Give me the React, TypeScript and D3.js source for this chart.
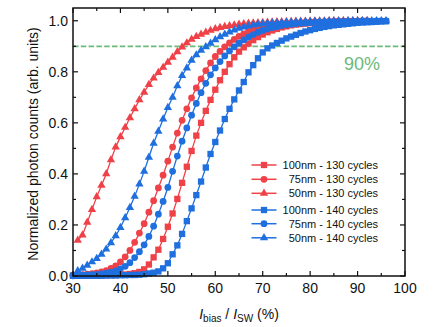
import React from "react";
import * as d3 from "d3";

const W = 436;
const H = 327;

// x grid start values (I_bias / I_SW in %, step 1)
const startSq130 = 30;
const startCi130 = 30;
const startTr130 = 31;
const startSq140 = 30;
const startCi140 = 30;
const startTr140 = 31;

const sq130 = [
  0.001, 0.001, 0.001, 0.002, 0.002, 0.002, 0.003, 0.003, 0.004, 0.004,
  0.005, 0.006, 0.008, 0.011, 0.016, 0.026, 0.045, 0.073, 0.103, 0.145,
  0.193, 0.245, 0.302, 0.365, 0.428, 0.49, 0.55, 0.6, 0.647, 0.69,
  0.73, 0.767, 0.8, 0.83, 0.857, 0.879, 0.896, 0.911, 0.924, 0.936,
  0.946, 0.955, 0.962, 0.968, 0.974, 0.978, 0.982, 0.985, 0.987, 0.989,
  0.991, 0.992, 0.993, 0.994, 0.995, 0.996, 0.996, 0.997, 0.997, 0.998,
  0.998, 0.999, 0.999,
];
const ci130 = [
  0.003, 0.004, 0.005, 0.007, 0.009, 0.012, 0.016, 0.021, 0.03, 0.04,
  0.055, 0.075, 0.1, 0.132, 0.168, 0.205, 0.25, 0.295, 0.345, 0.395,
  0.45, 0.505, 0.56, 0.61, 0.655, 0.698, 0.737, 0.772, 0.805, 0.835,
  0.86, 0.88, 0.898, 0.913, 0.927, 0.939, 0.949, 0.958, 0.965, 0.971,
  0.976, 0.98, 0.983, 0.986, 0.988, 0.99, 0.991, 0.992, 0.993, 0.994,
  0.995, 0.996, 0.996, 0.997, 0.997, 0.998, 0.998, 0.998, 0.999, 0.999,
  0.999, 1.0, 1.0,
];
const tr130 = [
  0.14, 0.16, 0.21, 0.26, 0.31, 0.355, 0.4, 0.455, 0.505,
  0.545, 0.582, 0.62, 0.655, 0.69, 0.72, 0.75, 0.775, 0.797, 0.817,
  0.837, 0.857, 0.878, 0.897, 0.913, 0.927, 0.938, 0.947, 0.955, 0.962,
  0.968, 0.973, 0.977, 0.98, 0.983, 0.986, 0.988, 0.99, 0.991, 0.992,
  0.993, 0.994, 0.995, 0.996, 0.996, 0.997, 0.997, 0.998, 0.998, 0.998,
  0.999, 0.999, 0.999, 0.999, 1.0, 1.0, 1.0, 1.0, 1.0, 1.0,
  1.0, 1.0, 1.0,
];
const sq140 = [
  0.001, 0.001, 0.001, 0.001, 0.001, 0.001, 0.001, 0.002, 0.002, 0.002,
  0.003, 0.003, 0.004, 0.004, 0.005, 0.007, 0.01, 0.013, 0.018, 0.03,
  0.05, 0.085, 0.12, 0.165, 0.215, 0.265, 0.317, 0.37, 0.425, 0.478,
  0.525, 0.57, 0.615, 0.655, 0.692, 0.727, 0.76, 0.798, 0.826, 0.853,
  0.876, 0.892, 0.903, 0.913, 0.922, 0.931, 0.938, 0.945, 0.952, 0.958,
  0.963, 0.968, 0.972, 0.976, 0.979, 0.982, 0.984, 0.986, 0.988, 0.99,
  0.992, 0.993, 0.994, 0.995, 0.996, 0.997, 0.998,
];
const ci140 = [
  0.001, 0.002, 0.003, 0.004, 0.005, 0.006, 0.008, 0.011, 0.015, 0.02,
  0.028, 0.038, 0.052, 0.072, 0.095, 0.122, 0.155, 0.195, 0.242, 0.292,
  0.347, 0.41, 0.47, 0.528, 0.58, 0.63, 0.676, 0.718, 0.755, 0.788,
  0.815, 0.84, 0.862, 0.882, 0.898, 0.912, 0.925, 0.936, 0.946, 0.955,
  0.962, 0.968, 0.973, 0.977, 0.981, 0.984, 0.986, 0.988, 0.99, 0.991,
  0.992, 0.993, 0.994, 0.995, 0.996, 0.996, 0.997, 0.997, 0.998, 0.998,
  0.998, 0.999, 0.999, 0.999, 1.0, 1.0, 1.0,
];
const tr140 = [
  0.02, 0.03, 0.042, 0.055, 0.068, 0.085, 0.105, 0.13, 0.157,
  0.19, 0.228, 0.268, 0.312, 0.36, 0.41, 0.465, 0.52, 0.567, 0.615,
  0.66, 0.7, 0.745, 0.785, 0.815, 0.845, 0.866, 0.884, 0.898, 0.912,
  0.925, 0.937, 0.947, 0.956, 0.963, 0.97, 0.975, 0.979, 0.983, 0.986,
  0.988, 0.99, 0.991, 0.992, 0.993, 0.994, 0.995, 0.996, 0.996, 0.997,
  0.997, 0.998, 0.998, 0.998, 0.999, 0.999, 0.999, 0.999, 1.0, 1.0,
  1.0, 1.0, 1.0, 1.0, 1.0, 1.0, 1.0,
];

const seriesNames = [
  "100nm - 130 cycles",
  "75nm - 130 cycles",
  "50nm - 130 cycles",
  "100nm - 140 cycles",
  "75nm - 140 cycles",
  "50nm - 140 cycles",
];
const xTicks = [30, 40, 50, 60, 70, 80, 90, 100];
const yTicks = [0, 0.2, 0.4, 0.6, 0.8, 1.0];
const thresholdValue = 0.9;
const thresholdLabel = "90%";

const RED = "#ef4148";
const BLUE = "#1f6fdf";
const GREEN = "#6cb97a";
const FONT = "'Liberation Sans', Arial, Helvetica, sans-serif";

type Series = {
  name: string;
  start: number;
  values: number[];
  color: string;
  shape: "square" | "circle" | "triangle";
};

const series: Series[] = [
  { name: seriesNames[0], start: startSq130, values: sq130, color: RED, shape: "square" },
  { name: seriesNames[1], start: startCi130, values: ci130, color: RED, shape: "circle" },
  { name: seriesNames[2], start: startTr130, values: tr130, color: RED, shape: "triangle" },
  { name: seriesNames[3], start: startSq140, values: sq140, color: BLUE, shape: "square" },
  { name: seriesNames[4], start: startCi140, values: ci140, color: BLUE, shape: "circle" },
  { name: seriesNames[5], start: startTr140, values: tr140, color: BLUE, shape: "triangle" },
];

const symbolFor = (shape: string) => {
  if (shape === "square") return d3.symbol().type(d3.symbolSquare).size(40)();
  if (shape === "circle") return d3.symbol().type(d3.symbolCircle).size(36)();
  return d3.symbol().type(d3.symbolTriangle).size(30)();
};

export default function App() {
  const left = 73;
  const right = 405;
  const top = 8;
  const bottom = 276;
  const x = d3.scaleLinear().domain([30, 100]).range([left, right]);
  const y = d3.scaleLinear().domain([0, 1.05]).range([bottom, top]);

  const xMinor = d3.range(35, 100, 10);
  const yMinor = [0.1, 0.3, 0.5, 0.7, 0.9];

  const line = d3
    .line<[number, number]>()
    .x((d) => x(d[0]))
    .y((d) => y(d[1]));

  const legendRows = [165, 179.3, 193.3, 210, 223.7, 237.8];

  return (
    <svg
      width={W}
      height={H}
      style={{ position: "absolute", left: 0, top: 0, background: "#fff" }}
      fontFamily={FONT}
    >
      <rect x={0} y={0} width={W} height={H} fill="#fff" />
      {/* threshold */}
      <line
        x1={x(30)}
        x2={x(100)}
        y1={y(thresholdValue)}
        y2={y(thresholdValue)}
        stroke={GREEN}
        strokeWidth={1.8}
        strokeDasharray="5.5,2.3"
      />
      <text x={344} y={70} fontSize={18} fill={GREEN}>
        {thresholdLabel}
      </text>

      {/* series */}
      {series.map((s, si) => {
        const pts: [number, number][] = s.values.map((v, i) => [s.start + i, v]);
        const sym = symbolFor(s.shape);
        return (
          <g key={si}>
            <path d={line(pts) || ""} fill="none" stroke={s.color} strokeWidth={1.3} />
            {pts.map((p, i) => (
              <path
                key={i}
                d={sym || ""}
                transform={`translate(${x(p[0])},${y(p[1])})`}
                fill={s.color}
              />
            ))}
          </g>
        );
      })}

      {/* frame */}
      <rect
        x={left}
        y={top}
        width={right - left}
        height={bottom - top}
        fill="none"
        stroke="#111"
        strokeWidth={1.5}
      />

      {/* x ticks */}
      {xTicks.map((t) => (
        <g key={"xt" + t}>
          <line x1={x(t)} x2={x(t)} y1={bottom} y2={bottom - 5} stroke="#111" strokeWidth={1.2} />
          <line x1={x(t)} x2={x(t)} y1={top} y2={top + 5} stroke="#111" strokeWidth={1.2} />
          <text x={x(t)} y={292.5} fontSize={14} textAnchor="middle" fill="#111">
            {t}
          </text>
        </g>
      ))}
      {xMinor.map((t) => (
        <g key={"xm" + t}>
          <line x1={x(t)} x2={x(t)} y1={bottom} y2={bottom - 3} stroke="#111" strokeWidth={1.2} />
          <line x1={x(t)} x2={x(t)} y1={top} y2={top + 3} stroke="#111" strokeWidth={1.2} />
        </g>
      ))}
      {/* y ticks */}
      {yTicks.map((t) => (
        <g key={"yt" + t}>
          <line x1={left} x2={left + 5} y1={y(t)} y2={y(t)} stroke="#111" strokeWidth={1.2} />
          <line x1={right} x2={right - 5} y1={y(t)} y2={y(t)} stroke="#111" strokeWidth={1.2} />
          <text x={68} y={y(t) + 5} fontSize={14} textAnchor="end" fill="#111">
            {t.toFixed(1)}
          </text>
        </g>
      ))}
      {yMinor.map((t) => (
        <g key={"ym" + t}>
          <line x1={left} x2={left + 3} y1={y(t)} y2={y(t)} stroke="#111" strokeWidth={1.2} />
          <line x1={right} x2={right - 3} y1={y(t)} y2={y(t)} stroke="#111" strokeWidth={1.2} />
        </g>
      ))}

      {/* axis titles */}
      <text
        transform={`translate(38,144) rotate(-90)`}
        fontSize={14}
        textAnchor="middle"
        fill="#111"
      >
        Normalized photon counts (arb. units)
      </text>
      <text x={239} y={318.5} fontSize={14} textAnchor="middle" fill="#111">
        <tspan fontStyle="italic">I</tspan>
        <tspan fontSize={10} dy={3}>bias</tspan>
        <tspan dy={-3}> / </tspan>
        <tspan fontStyle="italic">I</tspan>
        <tspan fontSize={10} dy={3}>SW</tspan>
        <tspan dy={-3}> (%)</tspan>
      </text>

      {/* legend */}
      {series.map((s, i) => {
        const ly = legendRows[i];
        return (
          <g key={"lg" + i}>
            <line x1={251.5} x2={276.5} y1={ly} y2={ly} stroke={s.color} strokeWidth={1.5} />
            <path d={symbolFor(s.shape) || ""} transform={`translate(264,${ly})`} fill={s.color} />
            <text x={378} y={ly + 4} fontSize={11} textAnchor="end" fill="#111">
              {s.name}
            </text>
          </g>
        );
      })}
    </svg>
  );
}
